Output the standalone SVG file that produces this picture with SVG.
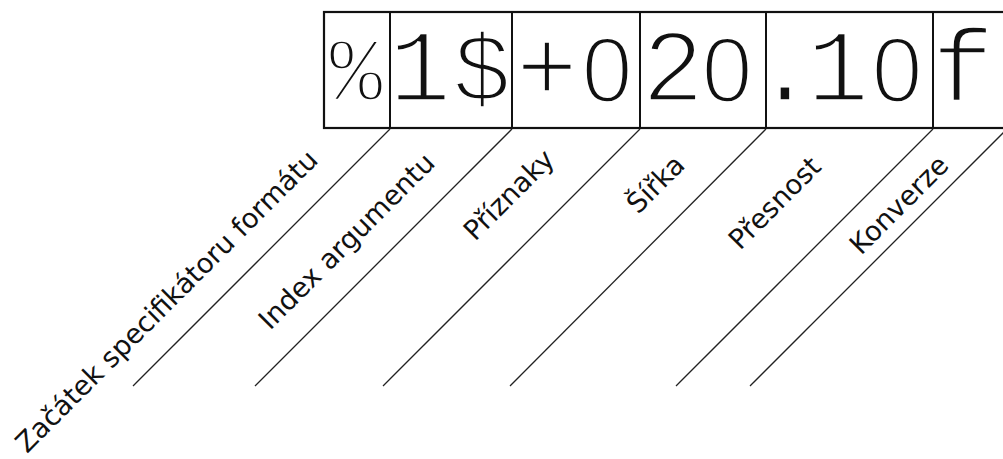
<svg xmlns="http://www.w3.org/2000/svg" width="1003" height="459" viewBox="0 0 1003 459">
  <style>
    .cell { fill: #fff; stroke: #111; stroke-width: 2.2; }
    .div { stroke: #111; stroke-width: 2; }
    .ch { font-family: "Liberation Mono", "Courier New", monospace; font-size: 104px; fill: #111; text-anchor: middle; stroke: #fff; stroke-width: 3.4; paint-order: normal; }
    .z { font-family: "Liberation Sans", Arial, sans-serif; font-size: 92px; }
    .lbl { font-family: "DejaVu Sans", Verdana, sans-serif; font-size: 27.4px; fill: #111; }
    .conn line { stroke: #222; stroke-width: 1.3; }
  </style>
  <rect width="1003" height="459" fill="#fff"/>
  <g id="box">
    <rect class="cell" x="324" y="12" width="690" height="116"/>
    <line class="div" x1="390" y1="12" x2="390" y2="128"/>
    <line class="div" x1="512" y1="12" x2="512" y2="128"/>
    <line class="div" x1="640" y1="12" x2="640" y2="128"/>
    <line class="div" x1="766" y1="12" x2="766" y2="128"/>
    <line class="div" x1="933" y1="12" x2="933" y2="128"/>
  </g>
  <g id="cell-percent"><text class="ch" x="356" y="100" style="font-size:90px">%</text></g>
  <g id="cell-index"><text class="ch" x="420" y="101">1</text><text class="ch" x="482" y="101" style="font-size:98px">$</text></g>
  <g id="cell-flags"><text class="ch" x="547" y="101">+</text><text class="ch z" x="607" y="102">0</text></g>
  <g id="cell-width"><text class="ch" x="673" y="101">2</text><text class="ch z" x="727" y="102">0</text></g>
  <g id="cell-precision"><text class="ch" x="785 838" y="101">.1</text><text class="ch z" x="897" y="102">0</text></g>
  <g id="cell-conversion"><text class="ch" x="963" y="101">f</text></g>
  <g id="connectors" class="conn">
    <line x1="390" y1="129" x2="133" y2="386"/>
    <line x1="512" y1="129" x2="255" y2="386"/>
    <line x1="640" y1="129" x2="383" y2="386"/>
    <line x1="766" y1="129" x2="510" y2="386"/>
    <line x1="933" y1="129" x2="676" y2="386"/>
    <line x1="1007" y1="129" x2="750" y2="386"/>
  </g>
  <g id="label-start"><text class="lbl" transform="translate(27,454) rotate(-45)">Začátek specifikátoru formátu</text></g>
  <g id="label-index"><text class="lbl" transform="translate(270,331) rotate(-45)">Index argumentu</text></g>
  <g id="label-flags"><text class="lbl" transform="translate(475,242) rotate(-45)">Příznaky</text></g>
  <g id="label-width"><text class="lbl" transform="translate(638,215) rotate(-45)">Šířka</text></g>
  <g id="label-precision"><text class="lbl" transform="translate(740,251) rotate(-45)">Přesnost</text></g>
  <g id="label-conversion"><text class="lbl" transform="translate(861,256) rotate(-45)">Konverze</text></g>
</svg>
